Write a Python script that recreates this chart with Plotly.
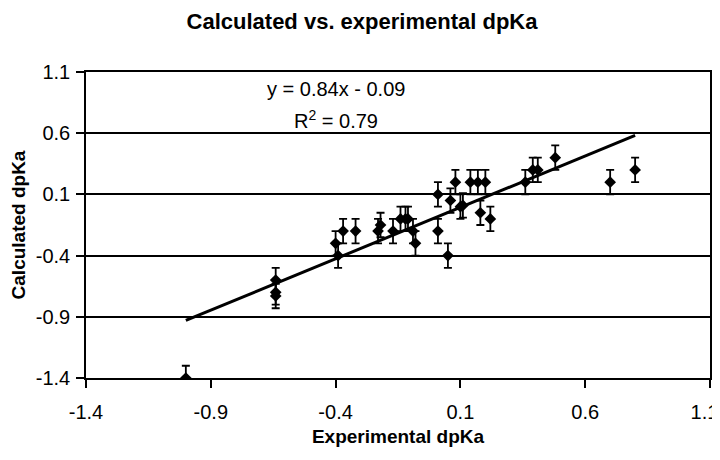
import numpy as np
import plotly.graph_objects as go

# Data
exp_dpka = [-1.00, -0.64, -0.64, -0.64, -0.40, -0.39, -0.37, -0.32, -0.23, -0.22,
            -0.17, -0.14, -0.12, -0.11, -0.09, -0.08, 0.01, 0.01, 0.05, 0.06,
            0.08, 0.10, 0.11, 0.14, 0.17, 0.20, 0.18, 0.22, 0.36, 0.39,
            0.41, 0.48, 0.70, 0.80]
calc_dpka = [-1.40, -0.60, -0.70, -0.73, -0.30, -0.40, -0.20, -0.20, -0.20, -0.15,
             -0.20, -0.10, -0.10, -0.10, -0.20, -0.30, 0.10, -0.20, -0.40, 0.05,
             0.20, 0.00, 0.01, 0.20, 0.20, 0.20, -0.05, -0.10, 0.20, 0.30,
             0.30, 0.40, 0.20, 0.30]
calc_err = [0.1] * len(calc_dpka)

fit_slope = 0.84
fit_intercept = -0.09
fit_r2 = 0.79

tick_vals = [-1.4, -0.9, -0.4, 0.1, 0.6, 1.1]
tick_text = ["-1.4", "-0.9", "-0.4", "0.1", "0.6", "1.1"]

x_line = np.array([min(exp_dpka), max(exp_dpka)])
y_line = fit_slope * x_line + fit_intercept

# keep the last x tick label inside the page edge
x_tick_text = tick_text[:-1] + [tick_text[-1] + "\u00a0\u00a0"]

fig = go.Figure()
fig.add_trace(go.Scatter(
    x=exp_dpka, y=calc_dpka, mode="markers",
    marker=dict(symbol="diamond", size=9, color="black"),
    error_y=dict(type="data", array=calc_err, visible=True,
                 color="black", thickness=1.8, width=4),
    showlegend=False,
))
fig.add_trace(go.Scatter(
    x=x_line, y=y_line, mode="lines",
    line=dict(color="black", width=3), showlegend=False,
))

# The page body adds an 8px offset, so the figure is sized 8px smaller.
fig_w, fig_h = 712, 452
bold_font = "Liberation Sans, Arial, sans-serif"
text_font = "Liberation Sans, Arial, sans-serif"
fig.update_layout(
    width=fig_w, height=fig_h,
    margin=dict(l=78, r=10, t=64, b=82),
    paper_bgcolor="white", plot_bgcolor="white",
    font=dict(family=text_font, color="black", size=20),
    title=dict(text="<b>Calculated vs. experimental dpKa</b>",
               x=354 / fig_w, xref="container", xanchor="center",
               y=1 - 13 / fig_h, yref="container", yanchor="middle",
               font=dict(size=22, family=bold_font, color="black")),
    xaxis=dict(range=[-1.4, 1.1], tickmode="array", tickvals=tick_vals, ticktext=x_tick_text,
               showgrid=False, zeroline=False, showline=True, linecolor="black", linewidth=1.5,
               mirror=True, ticks="outside", ticklen=8, tickwidth=1.5, tickcolor="black",
               tickfont=dict(size=20, family=text_font), automargin=False,
               ticklabeloverflow="allow", ticklabelstandoff=7,
               title=dict(text="<b>Experimental dpKa</b>",
                          font=dict(size=19, family=bold_font), standoff=8)),
    yaxis=dict(range=[-1.4, 1.1], tickmode="array", tickvals=tick_vals, ticktext=tick_text,
               showgrid=True, gridcolor="black", gridwidth=1.5, zeroline=False,
               showline=True, linecolor="black", linewidth=1.5, mirror=True,
               ticks="outside", ticklen=8, tickwidth=1.5, tickcolor="black",
               tickfont=dict(size=20, family=text_font), automargin=False,
               ticklabeloverflow="allow", ticklabelstandoff=2,
               title=dict(text="<b>Calculated dpKa</b>",
                          font=dict(size=19, family=bold_font), standoff=6)),
    annotations=[
        dict(text=f"y = {fit_slope}x - {abs(fit_intercept)}", x=-0.4, y=0.96,
             xref="x", yref="y", showarrow=False, font=dict(size=20, family=text_font)),
        dict(text=f"R<sup>2</sup> = {fit_r2}", x=-0.4, y=0.71,
             xref="x", yref="y", showarrow=False, font=dict(size=20, family=text_font)),
    ],
)

fig.write_html("out.html")
